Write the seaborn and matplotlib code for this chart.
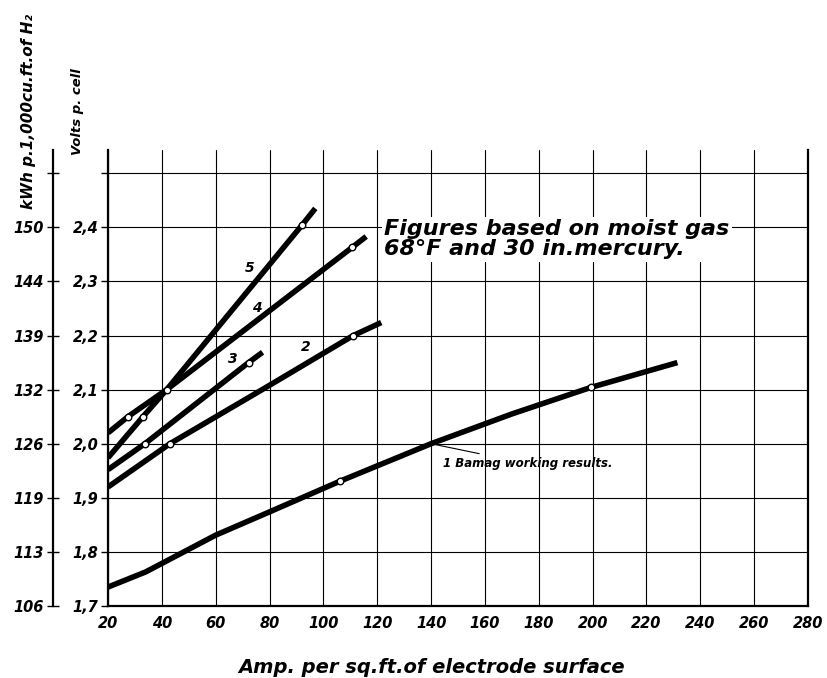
import pandas as pd
import matplotlib.pyplot as plt
import seaborn as sns

sns.set_theme(style="white")
plt.rcParams['font.family'] = ['DejaVu Sans']
plt.rcParams['text.color'] = 'black'
plt.rcParams['xtick.color'] = 'black'
plt.rcParams['ytick.color'] = 'black'
plt.rcParams['axes.labelcolor'] = 'black'

# curve vertices (x = amp per sq.ft, y = volts per cell)
c1_x = [20, 34, 60, 80, 106.3, 140, 170, 199.3, 231.5]
c1_y = [1.735, 1.763, 1.831, 1.874, 1.931, 2.0, 2.055, 2.104, 2.15]
c2_x = [20, 43, 80, 111.1, 121.5]
c2_y = [1.92, 2.0, 2.108, 2.2, 2.224]
c3_x = [20, 33.7, 72.2, 77.4]
c3_y = [1.952, 2.0, 2.15, 2.169]
c4_x = [20, 27.4, 41.8, 110.7, 115.9]
c4_y = [2.02, 2.05, 2.1, 2.363, 2.383]
c5_x = [20, 33, 41.8, 92.2, 97]
c5_y = [1.974, 2.05, 2.1, 2.405, 2.435]

# measured points (open circles)
pt_x = [106.3, 199.3, 43, 111.1, 33.7, 72.2, 27.4, 41.8, 110.7, 33, 92.2]
pt_y = [1.931, 2.104, 2.0, 2.2, 2.0, 2.15, 2.05, 2.1, 2.363, 2.05, 2.405]

x_ticks = list(range(20, 281, 20))
volt_ticks = [1.7, 1.8, 1.9, 2.0, 2.1, 2.2, 2.3, 2.4, 2.5]
volt_labels = ['1,7', '1,8', '1,9', '2,0', '2,1', '2,2', '2,3', '2,4', '']
kwh_labels = ['106', '113', '119', '126', '132', '139', '144', '150', '']

# curve labels: text, text position, point on the curve
curve_labels = [
    ('5', (72.6, 2.325), (76.9, 2.312)),
    ('4', (75.4, 2.250), (78.8, 2.241)),
    ('3', (66.2, 2.156), (70.7, 2.145)),
    ('2', (93.6, 2.178), (97.5, 2.163)),
]

frames = []
for name, xs, ys in [('1', c1_x, c1_y), ('2', c2_x, c2_y), ('3', c3_x, c3_y),
                     ('4', c4_x, c4_y), ('5', c5_x, c5_y)]:
    frames.append(pd.DataFrame({'amp': xs, 'volts': ys, 'curve': name}))
df = pd.concat(frames, ignore_index=True)

fig = plt.figure(figsize=(8.27, 6.78), dpi=100)
ax = fig.add_axes([0.1306, 0.1062, 0.8464, 0.6726])

sns.lineplot(data=df, x='amp', y='volts', units='curve', estimator=None, sort=False,
             color='black', lw=4, solid_capstyle='butt', ax=ax, zorder=3)
sns.scatterplot(x=pt_x, y=pt_y, s=22, color='white', edgecolor='black',
                linewidth=1.0, ax=ax, zorder=4)

ax.set_xlim(20, 280)
ax.set_ylim(1.7, 2.543)
ax.set_xticks(x_ticks)
ax.set_xticklabels([str(v) for v in x_ticks])
ax.set_yticks(volt_ticks)
ax.set_yticklabels(volt_labels)
ax.grid(True, color='black', lw=0.8)
ax.set_axisbelow(True)
ax.set_xlabel('')
ax.set_ylabel('')
for side in ['left', 'bottom', 'right']:
    ax.spines[side].set_color('black')
    ax.spines[side].set_linewidth(1.6)
ax.spines['top'].set_visible(False)
ax.tick_params(axis='both', direction='out', length=5, width=1, color='black',
               labelsize=10.5, pad=2, labelcolor='black')
for lab in ax.get_xticklabels() + ax.get_yticklabels():
    lab.set_fontweight('bold')
    lab.set_fontstyle('italic')

# second scale: kWh per 1000 cu.ft of H2
ax2 = ax.twinx()
ax2.set_ylim(ax.get_ylim())
ax2.yaxis.set_ticks_position('left')
ax2.spines['left'].set_position(('outward', 39.6))
ax2.spines['left'].set_visible(True)
ax2.spines['left'].set_linewidth(1.6)
ax2.spines['left'].set_color('black')
for side in ['right', 'top', 'bottom']:
    ax2.spines[side].set_visible(False)
ax2.set_yticks(volt_ticks)
ax2.set_yticklabels(kwh_labels)
ax2.tick_params(axis='y', direction='inout', length=9, width=1, color='black',
                labelsize=10.5, pad=2, labelcolor='black')
for lab in ax2.get_yticklabels():
    lab.set_fontweight('bold')
    lab.set_fontstyle('italic')
ax2.grid(False)

for txt, xytext, xy in curve_labels:
    ax.annotate(txt, xy=xy, xytext=xytext, fontsize=10, fontweight='bold',
                fontstyle='italic', ha='center', va='center', color='black',
                arrowprops=dict(arrowstyle='-', lw=0.9, color='black',
                                shrinkA=2, shrinkB=0))
ax.annotate('1 Bamag working results.', xy=(140, 2.0), xytext=(144.5, 1.963),
            fontsize=8.5, fontweight='bold', fontstyle='italic', ha='left', va='center',
            color='black',
            arrowprops=dict(arrowstyle='-', lw=0.8, color='black', shrinkA=1, shrinkB=0))

ax.text(122.6, 2.378, 'Figures based on moist gas\n68°F and 30 in.mercury.',
        fontsize=16, fontweight='bold', fontstyle='italic', ha='left', va='center',
        linespacing=1.0, zorder=5, color='black',
        bbox=dict(facecolor='white', edgecolor='none', pad=2))

fig.text(0.034, 0.835, 'kWh p.1,000cu.ft.of H\u2082', rotation=90, ha='center', va='center',
         fontsize=11, fontweight='bold', fontstyle='italic', color='black')
fig.text(0.094, 0.835, 'Volts p. cell', rotation=90, ha='center', va='center',
         fontsize=9.5, fontweight='bold', fontstyle='italic', color='black')
fig.text(0.522, 0.015, 'Amp. per sq.ft.of electrode surface', ha='center', va='center',
         fontsize=14, fontweight='bold', fontstyle='italic', color='black')

fig.savefig('out.png', dpi=100)
